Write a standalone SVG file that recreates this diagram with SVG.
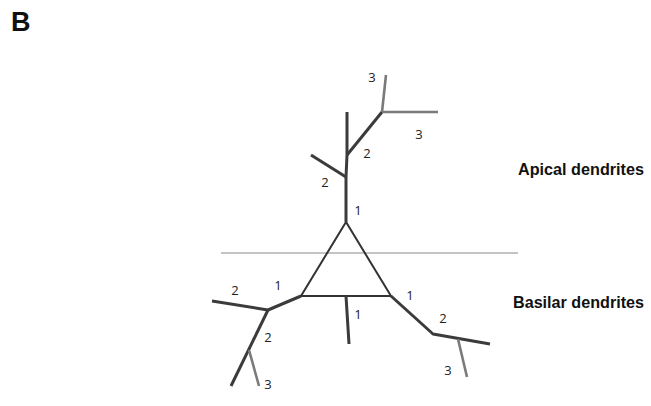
<svg xmlns="http://www.w3.org/2000/svg" width="651" height="406" viewBox="0 0 651 406">
<style>
.d{stroke:#3b3b3b;stroke-width:3;fill:none;stroke-linecap:butt;stroke-linejoin:round}
.t3{stroke:#7a7a7a;stroke-width:2.6;fill:none}
.soma{stroke:#333;stroke-width:2;fill:none;stroke-linejoin:miter}
.n{font-family:"Open Sans","Liberation Sans",sans-serif;font-size:13px;fill:#222;text-anchor:middle}
.h{font-family:"Liberation Sans",Arial,sans-serif;font-weight:bold;font-size:16px;fill:#111}
</style>
<rect width="651" height="406" fill="#fff"/>
<text x="11" y="31" font-family="Liberation Sans,Arial,sans-serif" font-weight="bold" font-size="27" fill="#111">B</text>
<line id="divider" x1="221" y1="253" x2="518" y2="253" stroke="#8a8a8a" stroke-width="1.2"/>
<g id="soma"><polygon class="soma" points="346,222 301,296 391,296"/></g>
<g id="apical">
<polyline class="d" points="346,222 346,177 347,155 347,112"/>
<line class="d" x1="346" y1="177" x2="311" y2="155"/>
<line class="d" x1="347" y1="155" x2="382" y2="112"/>
<line class="t3" x1="382" y1="112" x2="386" y2="75"/>
<line class="t3" x1="382" y1="112" x2="438" y2="112"/>
</g>
<g id="basilar">
<polyline class="d" points="301,296 268,310 212,301"/>
<line class="d" x1="268" y1="310" x2="231" y2="386"/>
<line class="t3" x1="249" y1="350" x2="259" y2="386"/>
<line class="d" x1="346" y1="296" x2="349" y2="344"/>
<polyline class="d" points="391,296 433,334 490,344"/>
<line class="t3" x1="458" y1="339" x2="467" y2="377"/>
</g>
<g id="labels">
<text class="n" x="372" y="82">3</text>
<text class="n" x="419" y="139">3</text>
<text class="n" x="367" y="158">2</text>
<text class="n" x="325" y="187">2</text>
<text class="n" x="358" y="215">1</text>
<text class="n" x="235" y="295">2</text>
<text class="n" x="278" y="290">1</text>
<text class="n" x="410" y="300">1</text>
<text class="n" x="358" y="319">1</text>
<text class="n" x="443" y="323">2</text>
<text class="n" x="268" y="342">2</text>
<text class="n" x="268" y="389">3</text>
<text class="n" x="448" y="375">3</text>
</g>
<text class="h" x="518" y="174.5" textLength="126" lengthAdjust="spacingAndGlyphs">Apical dendrites</text>
<text class="h" x="513" y="308" textLength="131" lengthAdjust="spacingAndGlyphs">Basilar dendrites</text>
</svg>
